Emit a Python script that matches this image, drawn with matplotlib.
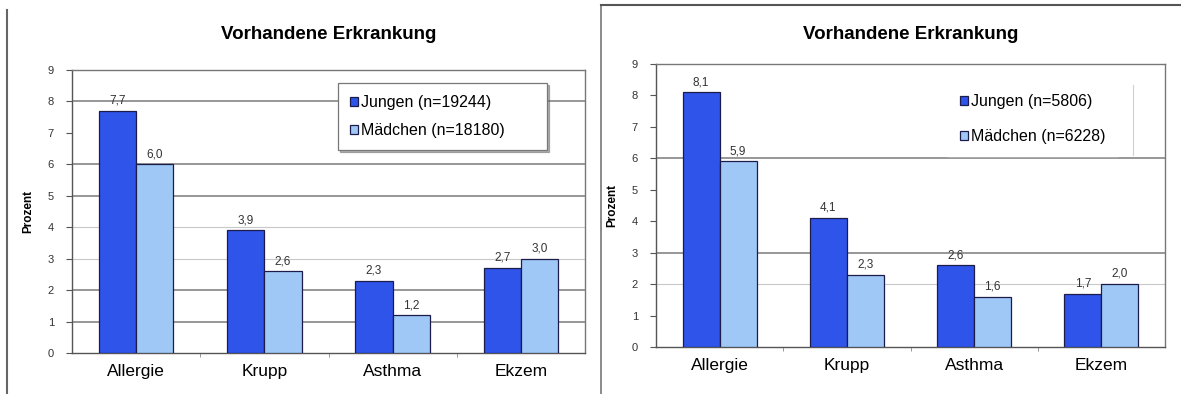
import numpy as np
import matplotlib
matplotlib.use("Agg")
import matplotlib.pyplot as plt
from matplotlib.lines import Line2D

plt.rcParams['font.family'] = ['Liberation Sans', 'DejaVu Sans']

categories = ['Allergie', 'Krupp', 'Asthma', 'Ekzem']

jungen_1 = [7.7, 3.9, 2.3, 2.7]
maedchen_1 = [6.0, 2.6, 1.2, 3.0]
legend_1 = ['Jungen (n=19244)', 'Mädchen (n=18180)']

jungen_2 = [8.1, 4.1, 2.6, 1.7]
maedchen_2 = [5.9, 2.3, 1.6, 2.0]
legend_2 = ['Jungen (n=5806)', 'Mädchen (n=6228)']

title = 'Vorhandene Erkrankung'
ylabel = 'Prozent'

C_JUNGEN = '#2f54ea'
C_MAEDCHEN = '#9fc8f6'
C_EDGE = '#1c1c4a'

W, H = 1181, 394
fig = plt.figure(figsize=(W / 100, H / 100), dpi=100)


def px(x0, y0, x1, y1):
    # pixel box (top-left origin) -> figure fraction rect
    return [x0 / W, 1 - y1 / H, (x1 - x0) / W, (y1 - y0) / H]


def fmt(v):
    return '{:.1f}'.format(v).replace('.', ',')


def draw(ax, jungen, maedchen, labels, strong, light, legend_box, framed,
         spacing, title_pad):
    x = np.arange(len(categories))
    bw = 0.29
    b1 = ax.bar(x - bw / 2, jungen, bw, color=C_JUNGEN, edgecolor=C_EDGE,
                linewidth=0.9, label=labels[0], zorder=3)
    b2 = ax.bar(x + bw / 2, maedchen, bw, color=C_MAEDCHEN, edgecolor=C_EDGE,
                linewidth=0.9, label=labels[1], zorder=3)
    for bars, vals in ((b1, jungen), (b2, maedchen)):
        for r, v in zip(bars, vals):
            ax.annotate(fmt(v), (r.get_x() + r.get_width() / 2, v),
                        xytext=(0, 3), textcoords='offset points',
                        ha='center', va='bottom', fontsize=8.5, color='#333333')

    for g in strong:
        ax.axhline(g, color='#7a7a7a', linewidth=1.1, zorder=1)
    for g in light:
        ax.axhline(g, color='#c8c8c8', linewidth=0.8, zorder=1)

    ax.set_xlim(-0.5, len(categories) - 0.5)
    ax.set_ylim(0, 9)
    ax.set_yticks(range(10))
    ax.tick_params(axis='y', labelsize=8, length=4, color='#555555',
                   labelcolor='#333333', pad=9)
    ax.set_xticks(x)
    ax.set_xticklabels(categories, fontsize=12.5)
    ax.tick_params(axis='x', length=0, pad=8)
    ax.set_xticks(np.arange(0.5, len(categories) - 0.5, 1), minor=True)
    ax.tick_params(axis='x', which='minor', length=3, color='#888888')
    for s in ax.spines.values():
        s.set_color('#777777')
        s.set_linewidth(1.0)
    ax.spines['left'].set_color('#555555')
    ax.spines['bottom'].set_color('#555555')

    ax.set_ylabel(ylabel, fontsize=8.5, fontweight='bold', labelpad=10)
    ax.set_title(title, fontsize=13.5, fontweight='bold', pad=title_pad)

    shadow = {'ox': 1.5, 'oy': -1.5, 'shade': 0.6} if framed else False
    leg = ax.legend(loc='upper left', bbox_to_anchor=legend_box,
                    bbox_transform=fig.transFigure, fontsize=11.5,
                    mode='expand' if framed else None,
                    frameon=True, fancybox=False, shadow=shadow,
                    handlelength=0.5, handleheight=0.5, handletextpad=0.2,
                    borderpad=0.75, labelspacing=spacing, borderaxespad=0)
    fr = leg.get_frame()
    fr.set_facecolor('white')
    fr.set_alpha(1)
    if framed:
        fr.set_edgecolor('#777777')
        fr.set_linewidth(0.9)
    else:
        fr.set_edgecolor('white')
    leg.set_zorder(5)
    return leg


ax1 = fig.add_axes(px(72, 70, 585, 353))
draw(ax1, jungen_1, maedchen_1, legend_1, [1, 2, 5, 6, 8], [3, 4],
     (338 / W, 1 - 83 / H, 209 / W, 0), True, 0.8, 22)

ax2 = fig.add_axes(px(656, 64, 1165, 347))
draw(ax2, jungen_2, maedchen_2, legend_2, [3, 6], [2],
     (948 / W, 1 - 82 / H), False, 1.25, 18)
# thin rule to the right of the second legend
fig.add_artist(Line2D([1133 / W, 1133 / W], [1 - 85 / H, 1 - 155 / H],
                      color='#d0d0d0', linewidth=0.8))

# panel borders
fig.add_artist(Line2D([7 / W, 7 / W], [1 - 10 / H, 0], color='#666666', linewidth=1.5))
fig.add_artist(Line2D([601 / W, 601 / W], [1 - 5 / H, 0], color='#777777', linewidth=1.2))
fig.add_artist(Line2D([601 / W, 1], [1 - 5 / H, 1 - 5 / H], color='#555555', linewidth=1.5))

fig.savefig('out.png', dpi=100)
